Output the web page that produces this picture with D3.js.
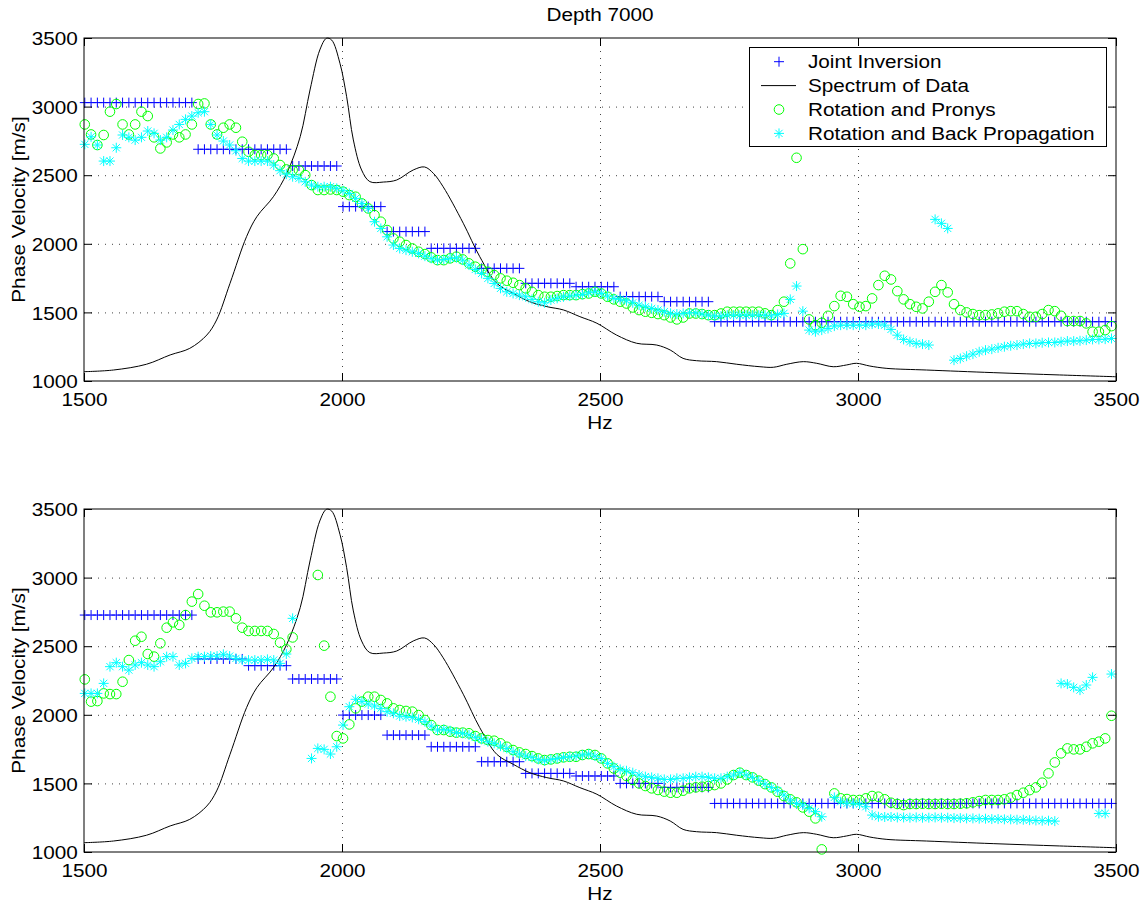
<!DOCTYPE html>
<html>
<head>
<meta charset="utf-8">
<title>Depth 7000</title>
<script src="https://cdn.jsdelivr.net/npm/d3@7/dist/d3.min.js"></script>
<style>
body { margin: 0; background: #fff; }
text { font-family: "Liberation Sans", Arial, Helvetica, sans-serif; font-size: 18.5px; fill: #000; }
.grid line { stroke: #444; stroke-width: 1; stroke-dasharray: 1,6; }
.grid path { display: none; }
</style>
</head>
<body>
<script>
// ---- data ----
var f0 = 1501.5, df = 12.207;   // frequency bins (Hz)
var nBins = 164;

var xTicks = [1500, 2000, 2500, 3000, 3500];
var yTicks = [1000, 1500, 2000, 2500, 3000, 3500];
var legendLabels = ["Joint Inversion", "Spectrum of Data", "Rotation and Pronys", "Rotation and Back Propagation"];

// joint inversion: [velocity, number of bins]
var jointTopSteps = [[3029,18],[2689,15],[2567,8],[2271,7],[2089,7],[1967,8],[1821,7],[1712,8],[1687,7],[1615,7],[1578,8],[1432,64]];
var jointBotSteps = [[2727,18],[2407,8],[2358,7],[2261,8],[1998,7],[1852,7],[1767,8],[1658,7],[1573,8],[1554,7],[1500,7],[1471,8],[1354,64]];

// spectrum (scaled onto velocity axis)
var specHz = [1500,1557,1621,1667,1705,1738,1757,1783,1815,1835,1867,1893,1919,1938,1957,1970,1980,1996,2009,2022,2038,2054,2080,2106,2138,2160,2177,2196,2235,2267,2300,2332,2364,2397,2429,2461,2494,2532,2571,2610,2636,2661,2687,2726,2765,2810,2836,2862,2894,2920,2952,2978,2997,3023,3056,3133,3262,3391,3500];
var specVal = [1068,1080,1122,1190,1238,1335,1445,1712,2052,2198,2343,2514,2781,3121,3413,3498,3485,3316,3072,2757,2538,2453,2450,2465,2538,2560,2514,2416,2150,1906,1712,1639,1578,1542,1518,1469,1421,1335,1275,1262,1226,1165,1148,1141,1122,1104,1100,1122,1141,1129,1104,1117,1129,1109,1092,1080,1061,1044,1031];

var pronysTop = [2870,2797,2720,2793,2963,3019,2870,2797,2870,2963,2931,2776,2695,2739,2797,2776,2797,2870,3019,3023,
2870,2797,2846,2870,2846,2744,2671,2647,2647,2647,2622,2574,2542,2537,2537,2501,2428,2392,2392,2396,
2392,2380,2355,2343,2294,2258,2209,2161,2100,2039,2015,1991,1966,1942,1925,1901,1881,1881,1894,1906,
1886,1857,1833,1813,1796,1772,1748,1731,1716,1699,1675,1650,1626,1614,1614,1619,1626,1626,1626,1633,
1638,1650,1638,1614,1595,1578,1565,1536,1517,1505,1497,1488,1480,1463,1449,1463,1492,1492,1488,1480,
1480,1492,1505,1505,1505,1505,1505,1505,1493,1480,1517,1578,1857,2627,1961,1449,1407,1424,1475,1546,
1621,1614,1560,1541,1546,1602,1699,1767,1740,1655,1595,1560,1541,1529,1578,1650,1699,1646,1560,1517,
1500,1488,1480,1480,1485,1493,1505,1509,1509,1488,1468,1468,1488,1517,1509,1475,1437,1437,1437,1420,
1359,1359,1371,1400];

var backPropTop = [2725,2780,2720,2603,2603,2700,2793,2776,2756,2776,2822,2805,2756,2776,2829,2870,2907,2931,2955,2963,
2870,2793,2749,2720,2678,2622,2603,2603,2603,2603,2574,2533,2508,2489,2477,2452,2428,2416,2416,2416,
2404,2387,2367,2331,2294,2258,2161,2112,2051,1991,1966,1954,1942,1930,1910,1894,1881,1886,1894,1898,
1881,1845,1813,1784,1748,1711,1675,1650,1638,1626,1614,1595,1578,1570,1590,1602,1614,1619,1626,1631,
1643,1650,1638,1619,1602,1595,1585,1570,1553,1541,1529,1517,1505,1493,1488,1493,1497,1497,1488,1480,
1473,1473,1480,1480,1480,1480,1480,1480,1480,1475,1485,1493,1595,1692,1509,1371,1359,1371,1383,1400,
1407,1407,1407,1407,1407,1415,1415,1407,1376,1334,1303,1286,1274,1269,1262,2178,2149,2112,1152,1164,
1181,1196,1213,1225,1232,1242,1250,1257,1262,1269,1274,1274,1279,1281,1281,1286,1291,1291,1293,1298,
1303,1303,1305,1310];

var pronysBot = [2258,2096,2100,2156,2151,2151,2241,2399,2540,2569,2443,2424,2521,2635,2674,2655,2727,2825,2880,2795,
2747,2747,2752,2752,2703,2635,2611,2611,2611,2611,2589,2526,2477,2564,null,null,null,3019,2504,2132,
1845,1828,1930,2047,2096,2132,2132,2108,2083,2047,2035,2028,2023,1998,1962,1925,1889,1889,1877,1870,
1870,1865,1845,1828,1816,1811,1792,1767,1743,1726,1714,1699,1682,1670,1675,1682,1690,1694,1694,1707,
1714,1707,1682,1646,1609,1578,1554,1525,1500,1481,1464,1452,1440,1432,1432,1447,1464,1471,1476,1481,
1488,1500,1529,1561,1578,1561,1544,1520,1495,1471,1439,1408,1384,1362,1325,1294,1245,1019,null,1427,
1391,1386,1379,1379,1391,1408,1403,1384,1359,1350,1342,1350,1350,1352,1350,1350,1352,1350,1350,1352,
1355,1362,1371,1379,1379,1379,1384,1396,1415,1432,1451,1471,1505,1573,1653,1719,1755,1748,1748,1767,
1792,1804,1828,1993];

var backPropBot = [2156,2156,2156,2229,2351,2380,2351,2326,2363,2380,2363,2351,2387,2424,2424,2363,2375,2411,2424,2424,
2428,2428,2441,2428,2411,2399,2399,2399,2399,2404,2399,2375,2443,2703,null,null,1682,1755,1748,1714,
1767,1925,2059,2113,2096,2078,2064,2047,2023,2011,1991,1986,1981,1967,1950,1918,1889,1894,1884,1870,
1865,1853,1836,1821,1804,1792,1772,1755,1731,1714,1699,1690,1675,1665,1675,1682,1690,1694,1699,1707,
1714,1699,1682,1646,1622,1602,1592,1578,1561,1549,1544,1537,1529,1529,1537,1537,1544,1549,1549,1544,
1537,1537,1549,1561,1578,1561,1544,1520,1495,1471,1447,1415,1379,1354,1342,1318,1294,1257,null,1398,
1366,1354,1354,1349,1330,1269,1257,1255,1255,1252,1252,1250,1252,1250,1250,1252,1250,1250,1247,1247,
1245,1245,1243,1243,1240,1240,1238,1238,1235,1235,1232,1230,1228,1228,1225,2229,2224,2200,2180,2217,
2273,1281,1281,2297];

// ---- layout ----
var width = 1148, height = 907;
var left = 84, right = 1116;
var panels = [
  {top: 38,  bottom: 381, joint: jointTopSteps, pronys: pronysTop, back: backPropTop, title: "Depth 7000", legend: true},
  {top: 509, bottom: 852, joint: jointBotSteps, pronys: pronysBot, back: backPropBot, title: null, legend: false}
];

var freqs = d3.range(nBins).map(function(i) { return f0 + i * df; });

function expandSteps(steps) {
  var out = [];
  steps.forEach(function(s) { for (var k = 0; k < s[1]; k++) out.push(s[0]); });
  return out;
}

var plusPath = "M-5,0H5M0,-5V5";
var starPath = "M-5,0H5M0,-5V5M-3.6,-3.6L3.6,3.6M-3.6,3.6L3.6,-3.6";
var stretch = " scale(1.12,1)";
var fmt = d3.format("d");

var svg = d3.select("body").append("svg")
    .attr("width", width)
    .attr("height", height)
    .style("display", "block");

svg.append("rect").attr("width", width).attr("height", height).attr("fill", "#fff");

var x = d3.scaleLinear().domain([1500, 3500]).range([left, right]);

panels.forEach(function(p) {
  var y = d3.scaleLinear().domain([1000, 3500]).range([p.bottom, p.top]);
  var g = svg.append("g");
  var plotH = p.bottom - p.top, plotW = right - left;

  // grid
  g.append("g").attr("class", "grid")
    .attr("transform", "translate(0," + p.bottom + ")")
    .call(d3.axisBottom(x).tickValues([2000, 2500, 3000]).tickSize(-plotH).tickFormat(""));
  g.append("g").attr("class", "grid")
    .attr("transform", "translate(" + left + ",0)")
    .call(d3.axisLeft(y).tickValues([1500, 2000, 2500, 3000]).tickSize(-plotW).tickFormat(""));

  // joint inversion
  var joint = expandSteps(p.joint);
  g.append("g").selectAll("path").data(joint).enter().append("path")
    .attr("d", plusPath)
    .attr("transform", function(d, i) { return "translate(" + x(freqs[i]) + "," + y(d) + ")"; })
    .attr("fill", "none").attr("stroke", "#0000ff").attr("stroke-width", 1);

  // spectrum
  var line = d3.line()
    .x(function(d, i) { return x(specHz[i]); })
    .y(function(d) { return y(d); })
    .curve(d3.curveCatmullRom);
  g.append("path").datum(specVal)
    .attr("d", line)
    .attr("fill", "none").attr("stroke", "#000").attr("stroke-width", 1);

  // rotation and pronys
  g.append("g").selectAll("circle")
    .data(p.pronys.map(function(v, i) { return [freqs[i], v]; }).filter(function(d) { return d[1] != null; }))
    .enter().append("circle")
    .attr("cx", function(d) { return x(d[0]); })
    .attr("cy", function(d) { return y(d[1]); })
    .attr("r", 4.8)
    .attr("fill", "none").attr("stroke", "#00ff00").attr("stroke-width", 1);

  // rotation and back propagation
  g.append("g").selectAll("path")
    .data(p.back.map(function(v, i) { return [freqs[i], v]; }).filter(function(d) { return d[1] != null; }))
    .enter().append("path")
    .attr("d", starPath)
    .attr("transform", function(d) { return "translate(" + x(d[0]) + "," + y(d[1]) + ")"; })
    .attr("fill", "none").attr("stroke", "#00ffff").attr("stroke-width", 1);

  // axes: ticks inside on all four sides
  var bAxis = g.append("g").attr("transform", "translate(0," + p.bottom + ")")
    .call(d3.axisBottom(x).tickValues(xTicks).tickSize(-8).tickSizeOuter(0).tickPadding(11.5).tickFormat(fmt));
  g.append("g").attr("transform", "translate(0," + p.top + ")")
    .call(d3.axisTop(x).tickValues(xTicks).tickSize(-8).tickSizeOuter(0).tickFormat(""));
  var lAxis = g.append("g").attr("transform", "translate(" + left + ",0)")
    .call(d3.axisLeft(y).tickValues(yTicks).tickSize(-8).tickSizeOuter(0).tickPadding(5.5).tickFormat(fmt));
  g.append("g").attr("transform", "translate(" + right + ",0)")
    .call(d3.axisRight(y).tickValues(yTicks).tickSize(-8).tickSizeOuter(0).tickFormat(""));
  g.selectAll(".domain").remove();
  bAxis.selectAll("text").attr("transform", "scale(1.12,1)");
  lAxis.selectAll("text").attr("transform", "scale(1.12,1)").attr("dy", "0.36em");

  g.append("rect")
    .attr("x", left).attr("y", p.top)
    .attr("width", plotW).attr("height", plotH)
    .attr("fill", "none").attr("stroke", "#000").attr("stroke-width", 1);

  // labels
  g.append("text")
    .attr("transform", "translate(" + ((left + right) / 2) + "," + (p.bottom + 48) + ")" + stretch)
    .attr("text-anchor", "middle").text("Hz");
  g.append("text")
    .attr("transform", "translate(25," + ((p.top + p.bottom) / 2) + ") rotate(-90)" + stretch)
    .attr("text-anchor", "middle").text("Phase Velocity [m/s]");
  if (p.title) {
    g.append("text")
      .attr("transform", "translate(" + ((left + right) / 2) + "," + (p.top - 17) + ")" + stretch)
      .attr("text-anchor", "middle").text(p.title);
  }

  if (p.legend) {
    var lg = g.append("g");
    lg.append("rect").attr("x", 749.5).attr("y", 47.5).attr("width", 357).attr("height", 99)
      .attr("fill", "#fff").attr("stroke", "#000").attr("stroke-width", 1);
    var rows = lg.selectAll("g.row").data(legendLabels).enter().append("g")
      .attr("class", "row")
      .attr("transform", function(d, i) { return "translate(0," + (61.7 + i * 23.9) + ")"; });
    rows.append("text")
      .attr("transform", "translate(808,6.6)" + stretch)
      .text(function(d) { return d; });
    rows.filter(function(d, i) { return i === 0; }).append("path")
      .attr("d", plusPath).attr("transform", "translate(779,0)")
      .attr("fill", "none").attr("stroke", "#0000ff");
    rows.filter(function(d, i) { return i === 1; }).append("line")
      .attr("x1", 761).attr("x2", 796).attr("y1", 0).attr("y2", 0)
      .attr("stroke", "#000");
    rows.filter(function(d, i) { return i === 2; }).append("circle")
      .attr("cx", 779).attr("cy", 0).attr("r", 4.8)
      .attr("fill", "none").attr("stroke", "#00ff00");
    rows.filter(function(d, i) { return i === 3; }).append("path")
      .attr("d", starPath).attr("transform", "translate(779,0)")
      .attr("fill", "none").attr("stroke", "#00ffff");
  }
});
</script>
</body>
</html>
